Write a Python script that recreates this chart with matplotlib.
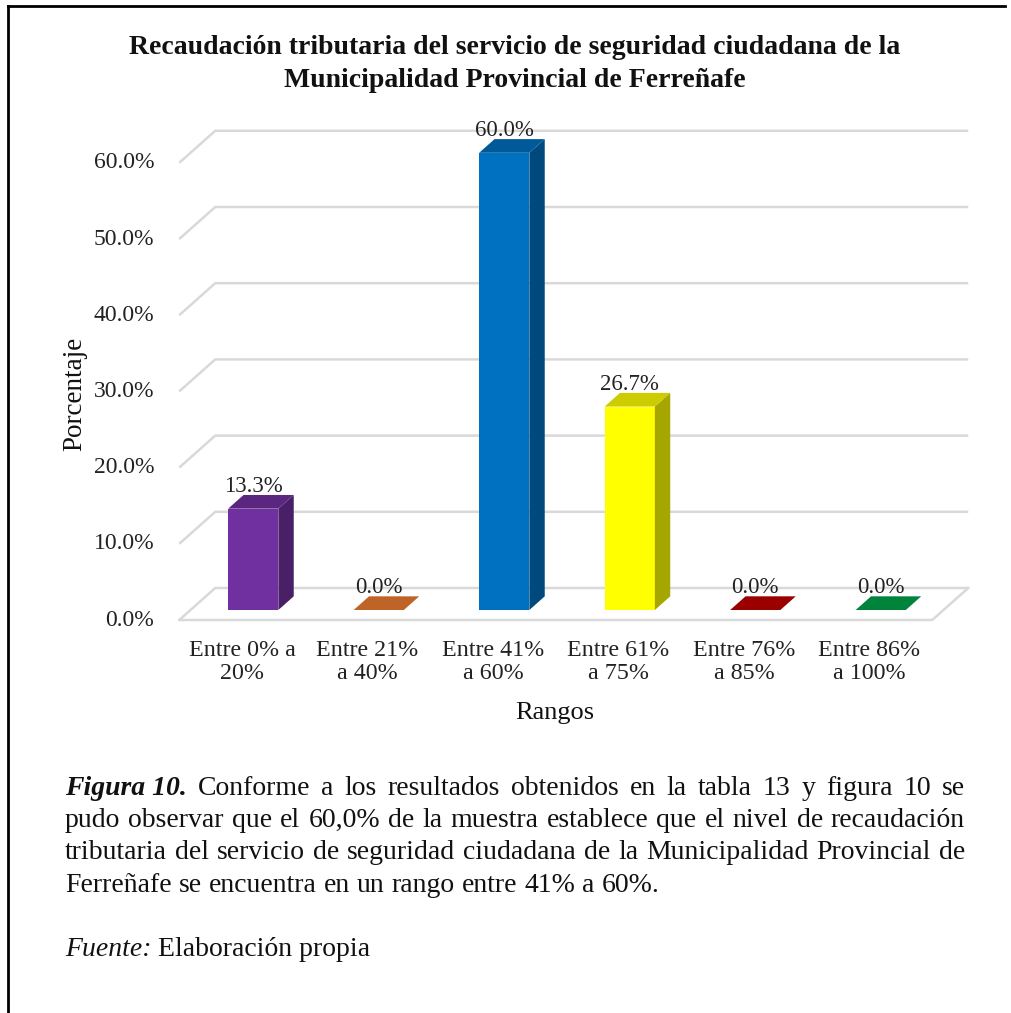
import matplotlib
matplotlib.use("Agg")
import matplotlib.pyplot as plt
from matplotlib.patches import Polygon
import numpy as np

plt.rcParams['font.family'] = ['Liberation Serif', 'DejaVu Serif']

# ---- data ----
categories = ["Entre 0% a\n20%", "Entre 21%\na 40%", "Entre 41%\na 60%",
              "Entre 61%\na 75%", "Entre 76%\na 85%", "Entre 86%\na 100%"]
values = [13.3, 0.0, 60.0, 26.7, 0.0, 0.0]
value_labels = ["13.3%", "0.0%", "60.0%", "26.7%", "0.0%", "0.0%"]
yticks = [0, 10, 20, 30, 40, 50, 60]
ytick_labels = ["0.0%", "10.0%", "20.0%", "30.0%", "40.0%", "50.0%", "60.0%"]
bar_colors = ["#7030A0", "#ED7D31", "#0070C0", "#FFFF00", "#C00000", "#00A54B"]

title = "Recaudación tributaria del servicio de seguridad ciudadana de la\nMunicipalidad Provincial de Ferreñafe"
caption_lines = [
    [("Figura 10.", "bi"), ("Conforme", "n"), ("a", "n"), ("los", "n"), ("resultados", "n"),
     ("obtenidos", "n"), ("en", "n"), ("la", "n"), ("tabla", "n"), ("13", "n"), ("y", "n"),
     ("figura", "n"), ("10", "n"), ("se", "n")],
    [(w, "n") for w in "pudo observar que el 60,0% de la muestra establece que el nivel de recaudación".split()],
    [(w, "n") for w in "tributaria del servicio de seguridad ciudadana de la Municipalidad Provincial de".split()],
    [(w, "n") for w in "Ferreñafe se encuentra en un rango entre 41% a 60%.".split()],
]

W, H = 1012, 1013
fig = plt.figure(figsize=(W / 100, H / 100), dpi=100)
ax = fig.add_axes([0, 0, 1, 1])
ax.set_axis_off()

# mapping: px_x = 242 + 125.5*cat ; px_y(top) = 620 - 7.62*pct
cx0, cstep = 242.0, 125.5
py0, pstep = 620.0, 7.62
ax.set_xlim((0 - cx0) / cstep, (W - cx0) / cstep)
ax.set_ylim((py0 - H) / pstep, py0 / pstep)

Dx, Dy = 36 / cstep, 32 / pstep          # back-wall offset
d0, d1 = 0.3125, 0.74                     # bar depth range
bw = 0.40                                 # bar width
n = len(categories)
left, right = -0.5, n - 0.5

grid_c = "#D9D9D9"
for v in yticks:
    ax.plot([left, left + Dx, right + Dx], [v, v + Dy, v + Dy], color=grid_c, lw=1.8,
            solid_capstyle='butt', zorder=1)
# floor front edge and right edge
ax.plot([left, right, right + Dx], [0, 0, Dy], color=grid_c, lw=1.8, zorder=1)


def shade(c, f):
    r, g, b = matplotlib.colors.to_rgb(c)
    return (r * f, g * f, b * f)


for i, (v, c) in enumerate(zip(values, bar_colors)):
    ox, oy = d0 * Dx, d0 * Dy
    ddx, ddy = (d1 - d0) * Dx, (d1 - d0) * Dy
    x0, x1 = i - bw / 2 + ox, i + bw / 2 + ox
    y0, y1 = oy, v + oy
    front = [(x0, y0), (x1, y0), (x1, y1), (x0, y1)]
    side = [(x1, y0), (x1 + ddx, y0 + ddy), (x1 + ddx, y1 + ddy), (x1, y1)]
    top = [(x0, y1), (x1, y1), (x1 + ddx, y1 + ddy), (x0 + ddx, y1 + ddy)]
    if v > 0:
        ax.add_patch(Polygon(front, closed=True, fc=c, ec='none', zorder=3))
        ax.add_patch(Polygon(side, closed=True, fc=shade(c, 0.65), ec='none', zorder=3))
    ax.add_patch(Polygon(top, closed=True, fc=shade(c, 0.8), ec='none', zorder=3))
    ax.text(i + ox, y1 + ddy + 0.4, value_labels[i], ha='center', va='baseline',
            fontsize=16.5, color='#222222', zorder=5)

# y tick labels
for v, lab in zip(yticks, ytick_labels):
    ax.text(left - 0.2, v, lab, ha='right', va='center', fontsize=17, color='#222222')

# category labels
for i, lab in enumerate(categories):
    ax.text(i, -2.6, lab, ha='center', va='top', fontsize=17.3, color='#222222',
            linespacing=1.12)

# axis titles
fig.text(75 / W, 1 - 394 / H, "Porcentaje", rotation=90, ha='center', va='center',
         fontsize=19.5, color='#111111')
fig.text(555 / W, 1 - 713 / H, "Rangos", ha='center', va='center', fontsize=19,
         color='#111111')

# chart title
fig.text(515 / W, 1 - 64 / H, title, ha='center', va='center', fontsize=20,
         fontweight='bold', linespacing=1.38, color='#111111')

# border lines
fig.add_artist(plt.Line2D([8 / W, 1005 / W], [1 - 6 / H, 1 - 6 / H], color='black', lw=2,
                          transform=fig.transFigure))
fig.add_artist(plt.Line2D([8 / W, 8 / W], [1 - 6 / H, 0], color='black', lw=2,
                          transform=fig.transFigure))

# caption (justified)
renderer = fig.canvas.get_renderer()
cap_fs = 20
xl, xr = 65, 965
baselines = [795, 827, 859, 892]
space_w = None
for li, words in enumerate(caption_lines):
    objs = []
    for w, st in words:
        kw = dict(fontsize=cap_fs, color='#111111', va='baseline', ha='left')
        if st == "bi":
            kw.update(fontweight='bold', fontstyle='italic')
        t = fig.text(0, 1 - baselines[li] / H, w, **kw)
        objs.append(t)
    widths = [t.get_window_extent(renderer).width for t in objs]
    if space_w is None:
        tmp = fig.text(0, 0, "a a", fontsize=cap_fs)
        tmp2 = fig.text(0, 0, "aa", fontsize=cap_fs)
        space_w = tmp.get_window_extent(renderer).width - tmp2.get_window_extent(renderer).width
        tmp.remove(); tmp2.remove()
    if li < len(caption_lines) - 1:
        gap = (xr - xl - sum(widths)) / (len(objs) - 1)
    else:
        gap = space_w
    x = xl
    for t, wd in zip(objs, widths):
        t.set_x(x / W)
        x += wd + gap

fig.text(xl / W, 1 - 956 / H, "Fuente:", fontsize=cap_fs, fontstyle='italic',
         va='baseline', ha='left', color='#111111')
tf = fig.text(0, 0, "Fuente: ", fontsize=cap_fs, fontstyle='italic')
fw = tf.get_window_extent(renderer).width
tf.remove()
fig.text((xl + fw) / W, 1 - 956 / H, "Elaboración propia", fontsize=cap_fs,
         va='baseline', ha='left', color='#111111')

fig.savefig("out.png", dpi=100)
